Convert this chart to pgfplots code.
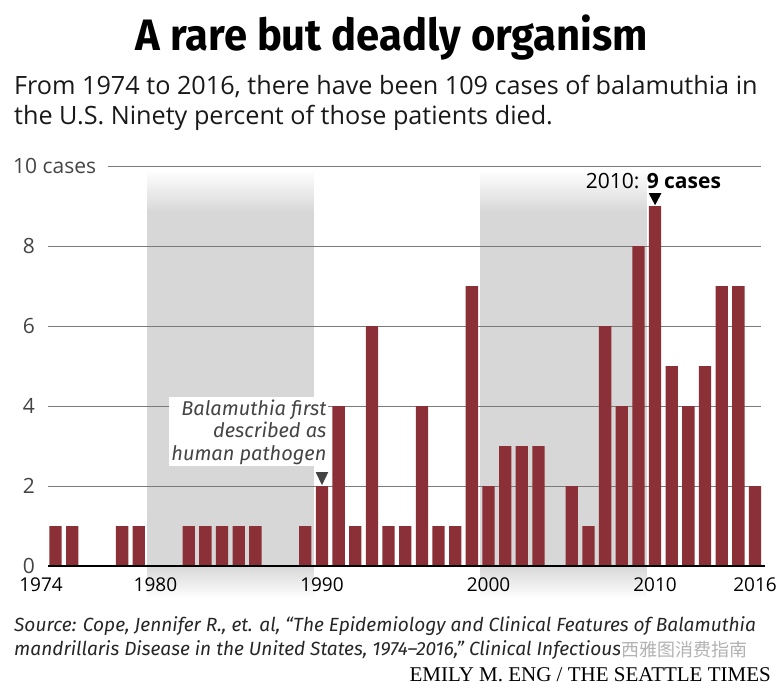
\documentclass[border=0pt]{standalone}
\usepackage{pgfplots}
\pgfplotsset{compat=1.18}
\usepackage{pgfplotstable}
\usepackage{fontspec}
\setmainfont{Open Sans}
\newfontfamily\titlefont{Fira Sans}[FakeStretch=0.95]
\newfontfamily\firafont{Fira Sans}
\newfontfamily\bylinefont{Liberation Serif}
\newfontfamily\cjk{Noto Sans CJK SC}
\definecolor{barred}{HTML}{8B3036}
\definecolor{gridgray}{HTML}{7A7A7A}
\definecolor{labgray}{HTML}{444444}
\definecolor{shadegray}{HTML}{D7D7D7}

\pgfplotstableread{
year cases
1974 1
1975 1
1978 1
1979 1
1982 1
1983 1
1984 1
1985 1
1986 1
1989 1
1990 2
1991 4
1992 1
1993 6
1994 1
1995 1
1996 4
1997 1
1998 1
1999 7
2000 2
2001 3
2002 3
2003 3
2005 2
2006 1
2007 6
2008 4
2009 8
2010 9
2011 5
2012 4
2013 5
2014 7
2015 7
2016 2
}\casedata

\newcommand{\fs}[1]{\fontsize{#1}{#1}\selectfont}

\begin{document}
\begin{tikzpicture}
\path[use as bounding box] (0pt,0pt) rectangle (780pt,-686pt);

% Title and subtitle
\node[anchor=base, inner sep=0pt] at (392pt,-50pt) {\fs{44}\titlefont\bfseries A rare but deadly organism};
\node[anchor=base west, inner sep=0pt, text=black!90] at (14pt,-94pt) {\fs{25.2}From 1974 to 2016, there have been 109 cases of balamuthia in};
\node[anchor=base west, inner sep=0pt, text=black!90] at (14pt,-124pt) {\fs{25.2}the U.S. Ninety percent of those patients died.};

\begin{axis}[
  at={(48pt,-566pt)}, anchor=south west,
  scale only axis, width=717pt, height=400pt,
  xmin=1973.55, xmax=2016.6, ymin=0, ymax=10,
  axis line style={draw=none},
  xtick=\empty, ytick=\empty,
  clip=false,
]
% shaded decades
\foreach \a/\b in {1979.5/1989.5, 1999.5/2009.5}{
  \edef\tmp{
  \noexpand\fill[shadegray] (axis cs:\a,0) rectangle (axis cs:\b,8.85);
  \noexpand\shade[top color=white, bottom color=shadegray, draw=none] (axis cs:\a,8.84) rectangle (axis cs:\b,9.9);
  \noexpand\shade[top color=shadegray, bottom color=white, draw=none] (axis cs:\a,0.01) rectangle (axis cs:\b,-0.8);
  }\tmp
}
% grid lines
\foreach \v in {2,4,6,8}{
  \edef\tmp{\noexpand\draw[gridgray, line width=1pt] (axis cs:1973.55,\v) -- (axis cs:2016.35,\v);}\tmp
}
\draw[gridgray, line width=1pt] (axis cs:1977.15,10) -- (axis cs:2016.35,10);

\addplot[ybar, bar width=12.3pt, fill=barred, draw=none] table[x=year, y=cases] {\casedata};

% baseline
\draw[black, line width=2pt] (axis cs:1973.55,0) -- (axis cs:2016.6,0);

% y labels
\foreach \v in {0,2,4,6,8}{
  \edef\tmp{\noexpand\node[anchor=east, inner sep=0pt, text=labgray] at (axis cs:1973.55,\v) [xshift=-13pt] {\noexpand\fs{21}\v};}\tmp
}
\node[anchor=west, inner sep=0pt, text=labgray] at (axis cs:1973.55,10) [xshift=-35pt] {\fs{21}10 cases};

% x labels
\node[anchor=base, inner sep=0pt] at (axis cs:1974,0) [xshift=-14.5pt, yshift=-25pt] {\fs{19}1974};
\foreach \y in {1980,1990,2000,2010,2016}{
  \edef\tmp{\noexpand\node[anchor=base, inner sep=0pt] at (axis cs:\y,0) [yshift=-25pt] {\noexpand\fs{19}\y};}\tmp
}

% annotation 1990
\node[anchor=north east, align=right, fill=white, inner sep=2pt, text=labgray, font=\fontsize{20}{22.5}\selectfont\firafont\itshape]
  at (axis cs:1990.4,4.22) {Balamuthia first\\ described as\\ human pathogen};
\fill[labgray] (axis cs:1989.62,2.35) -- (axis cs:1990.38,2.35) -- (axis cs:1990,2.02) -- cycle;

% annotation 2010
\fill[black] (axis cs:2009.62,9.32) -- (axis cs:2010.38,9.32) -- (axis cs:2010,9.02) -- cycle;
\node[anchor=base, inner sep=0pt] at (axis cs:2009.9,9.45) {\fs{21}2010: \bfseries 9 cases};
\end{axis}

% source
\node[anchor=base west, inner sep=0pt, text=black!85] at (14pt,-631pt) {\fs{19.1}\firafont\itshape Source: Cope, Jennifer R., et. al, “The Epidemiology and Clinical Features of Balamuthia};
\node[anchor=base west, inner sep=0pt, text=black!85] at (14pt,-655pt) {\fs{19.1}\firafont\itshape mandrillaris Disease in the United States, 1974–2016,” Clinical Infectious Diseases.};
\node[anchor=base east, inner sep=0pt] at (771pt,-681pt) {\fs{21}\bylinefont EMILY M. ENG / THE SEATTLE TIMES};
% watermark
\node[anchor=base west, inner sep=0pt, text=gray!60, fill=white, inner sep=1pt] at (620pt,-656pt) {\fs{18}\cjk 西雅图消费指南};
\end{tikzpicture}
\end{document}
